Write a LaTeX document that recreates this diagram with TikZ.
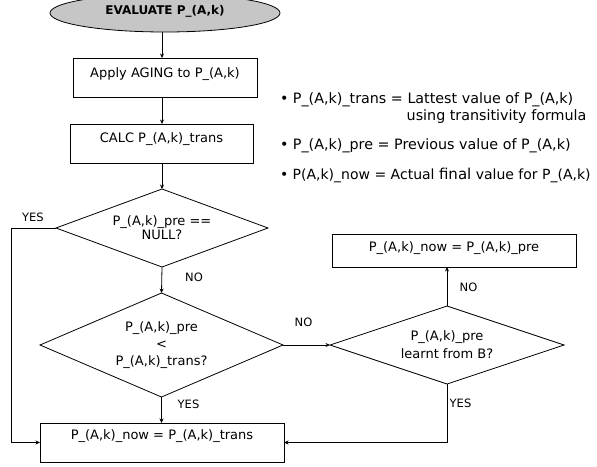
\documentclass[tikz,border=0pt]{standalone}
\usepackage{fontspec}
\setmainfont{DejaVu Sans}
\usetikzlibrary{shapes.geometric,arrows.meta}
\definecolor{termfill}{RGB}{198,198,198}
\begin{document}
\begin{tikzpicture}[x=1pt,y=-1pt,
  every node/.style={inner sep=0pt, outer sep=0pt},
  flowbox/.style={draw, line width=0.8pt, anchor=north west, font=\fontsize{13}{15}\selectfont},
  decision/.style={draw, diamond, line width=0.8pt, align=center},
  term/.style={draw, ellipse, line width=0.8pt, fill=termfill, font=\fontsize{12}{14}\selectfont\bfseries},
  lbl/.style={font=\fontsize{11.5}{13}\selectfont},
  leg/.style={anchor=base west, font=\fontsize{14.3}{17}\selectfont},
  arr/.style={-{Stealth[length=4.5pt,width=4pt]}, line width=0.8pt}]
\useasboundingbox (0,0) rectangle (597,466);
\fill[white] (0,0) rectangle (597,466);
% terminator
\node[term, minimum width=230, minimum height=38, text depth=5.5pt] (start) at (165,13) {EVALUATE P\_(A,k)};
% process boxes
\node[flowbox, minimum width=184, text height=19pt, text depth=20pt] (aging) at (73,58) {Apply AGING to P\_(A,k)};
\node[flowbox, minimum width=183, text height=18pt, text depth=21pt] (calc) at (70,124) {CALC P\_(A,k)\_trans};
\node[flowbox, minimum width=244, text height=16pt, text depth=23pt] (now1) at (40,423) {P\_(A,k)\_now = P\_(A,k)\_trans};
\node[flowbox, minimum width=244, text height=17pt, text depth=16pt] (now2) at (332,234) {P\_(A,k)\_now = P\_(A,k)\_pre};
% decisions
\node[decision, aspect=2.72, minimum width=212, minimum height=78, font=\fontsize{13}{14}\selectfont] (d1) at (162,228) {P\_(A,k)\_pre ==\\NULL?};
\node[decision, aspect=2.34, minimum width=243, minimum height=104, font=\fontsize{13}{17}\selectfont] (d2) at (161.5,345) {P\_(A,k)\_pre\\<\\P\_(A,k)\_trans?};
\node[decision, aspect=3, minimum width=234, minimum height=78, font=\fontsize{13}{18}\selectfont] (d3) at (447,345) {P\_(A,k)\_pre\\learnt from B?};
% helper coordinates
\coordinate (sp) at (162,0);
\coordinate (yx) at (11,0);
% connectors
\draw[arr] (start.south -| sp) -- (aging.north -| sp);
\draw[arr] (aging.south -| sp) -- (calc.north -| sp);
\draw[arr] (calc.south -| sp) -- (d1.north);
\draw[arr] (d1.south) -- (d2.north);
\draw[arr] (d2.south) -- (now1.north -| d2.south);
\draw[arr] (d1.west) -- (d1.west -| yx) |- (now1.west);
\draw[arr] (d2.east) -- (d3.west);
\draw[arr] (d3.north) -- (d3.north |- now2.south);
\draw[arr] (d3.south) |- (now1.east);
% labels
\node[lbl] (yes1) at (33,217) {YES};
\node[lbl] (no1) at (194,277.5) {NO};
\node[lbl] (yes2) at (188.5,404) {YES};
\node[lbl] (no2) at (303.5,322.5) {NO};
\node[lbl] (no3) at (468.5,287.5) {NO};
\node[lbl] (yes3) at (460.5,403.5) {YES};
% legend
\node[leg] (l1) at (280,103) {• P\_(A,k)\_trans = Lattest value of P\_(A,k)};
\node[leg] (l1b) at (406.7,120) {using transitivity formula};
\node[leg] (l2) at (280,149) {• P\_(A,k)\_pre = Previous value of P\_(A,k)};
\node[leg, font=\fontsize{14}{17}\selectfont] (l3) at (280,179) {• P(A,k)\_now = Actual {\fontsize{15}{17}\selectfont final} value for P\_(A,k)};
\end{tikzpicture}
\end{document}
